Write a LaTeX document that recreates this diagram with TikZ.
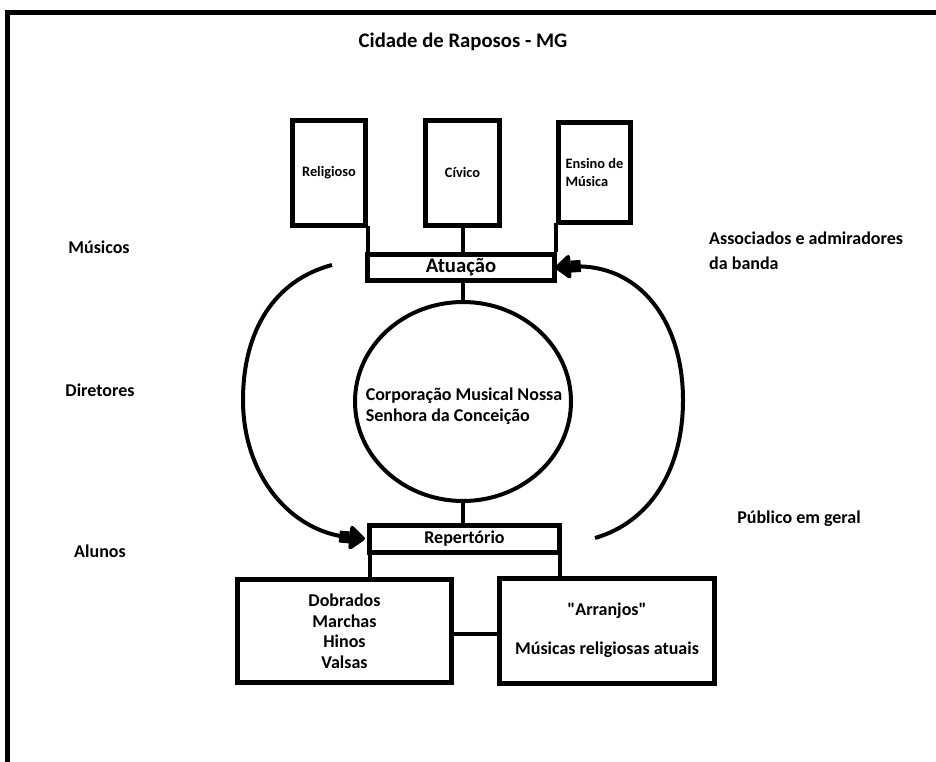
\documentclass[tikz,border=0pt]{standalone}
\usepackage{fontspec}
\setmainfont{Carlito}[Ligatures=TeXOff]
\usetikzlibrary{shapes.geometric,arrows.meta}
\begin{document}
\begin{tikzpicture}[x=1pt,y=-1pt,
  box/.style={draw,line width=5pt,rectangle,inner sep=0pt,font=\bfseries\fontsize{18}{21}\selectfont},
  smallbox/.style={box,font=\bfseries\fontsize{14.4}{18}\selectfont,align=left},
  lbl/.style={font=\bfseries\fontsize{18}{25}\selectfont,inner sep=0pt},
  conn/.style={line width=4pt},
  flow/.style={line width=4pt,-{Rectangle[length=10pt,width=12pt]Triangle[width=27pt,length=17pt,round]}}]
\useasboundingbox (0,0) rectangle (936,762);
% frame
\draw[line width=5pt] (7,762) -- (7,12.5) -- (940,12.5);
% title
\node[lbl,font=\bfseries\fontsize{20.7}{25}\selectfont] (title) at (463,42) {Cidade de Raposos - MG};
% top boxes
\node[smallbox,minimum width=73pt,minimum height=105pt] (rel) at (329,173) {Religioso};
\node[smallbox,minimum width=74pt,minimum height=105pt] (civ) at (462.5,173) {Cívico};
\node[smallbox,minimum width=72pt,minimum height=100pt] (ens) at (594.5,172.5) {Ensino de\\Música};
% Atuacao
\node[box,minimum width=187pt,minimum height=26pt,font=\bfseries\fontsize{20.7}{25}\selectfont] (atu) at (461,267.5) {Atuação};
% circle
\node[draw,line width=4pt,ellipse,inner sep=0pt,minimum width=216pt,minimum height=199pt] (circ) at (463,401.5) {};
\node[font=\bfseries\fontsize{18}{21}\selectfont,align=left,inner sep=0pt] (circtext) at (464,406.5)
      {Corporação Musical Nossa\\Senhora da Conceição};
% Repertorio
\node[box,minimum width=190pt,minimum height=27pt] (rep) at (464.5,539) {Repertório};
% bottom boxes
\node[box,minimum width=214pt,minimum height=103pt,align=center,font=\bfseries\fontsize{18}{20.5}\selectfont] (lb) at (344.5,631) {Dobrados\\Marchas\\Hinos\\Valsas};
\node[box,minimum width=215pt,minimum height=105pt,align=center,font=\bfseries\fontsize{18}{19.5}\selectfont] (rb) at (607,630.5) {"Arranjos"\\[0pt]\\Músicas religiosas atuais};
% side labels
\node[lbl] (mus) at (99,247) {Músicos};
\node[lbl] (dir) at (100,390) {Diretores};
\node[lbl] (alu) at (100,551) {Alunos};
\node[lbl,anchor=west,align=left] (ass) at (709,250.5) {Associados e admiradores\\da banda};
\node[lbl] (pub) at (799,519) {Público em geral};
% connectors
\draw[conn] (rel.south east) ++(0,-2) -- (rel.south east |- atu.north);
\draw[conn] (civ.south) -- (civ.south |- atu.north);
\draw[conn] (ens.south west) ++(0,-2) -- (ens.south west |- atu.north);
\draw[conn] (atu.south) ++(2,0) -- ([xshift=2pt]atu.south |- circ.north);
\draw[conn] (circ.south) -- (circ.south |- rep.north);
\draw[conn] ([xshift=2.5pt]rep.south west) -- ([xshift=2.5pt]rep.south west |- lb.north);
\draw[conn] ([xshift=-2.5pt]rep.south east) -- ([xshift=-2.5pt]rep.south east |- rb.north);
\draw[conn] ([yshift=-3pt]lb.east) -- ([yshift=-3pt]lb.east -| rb.west);
% flows
\coordinate (ls) at (332,265);
\coordinate (rs) at (595,538);
\draw[flow,shorten >=2pt] (ls) .. controls (275,280) and (243,330) .. (243,400)
      .. controls (243,475) and (290,532) .. (rep.west);
\draw[flow,shorten >=-2pt] (rs) .. controls (650,522) and (683,470) .. (683,400)
      .. controls (683,322) and (640,262) .. (atu.east);
\end{tikzpicture}
\end{document}
